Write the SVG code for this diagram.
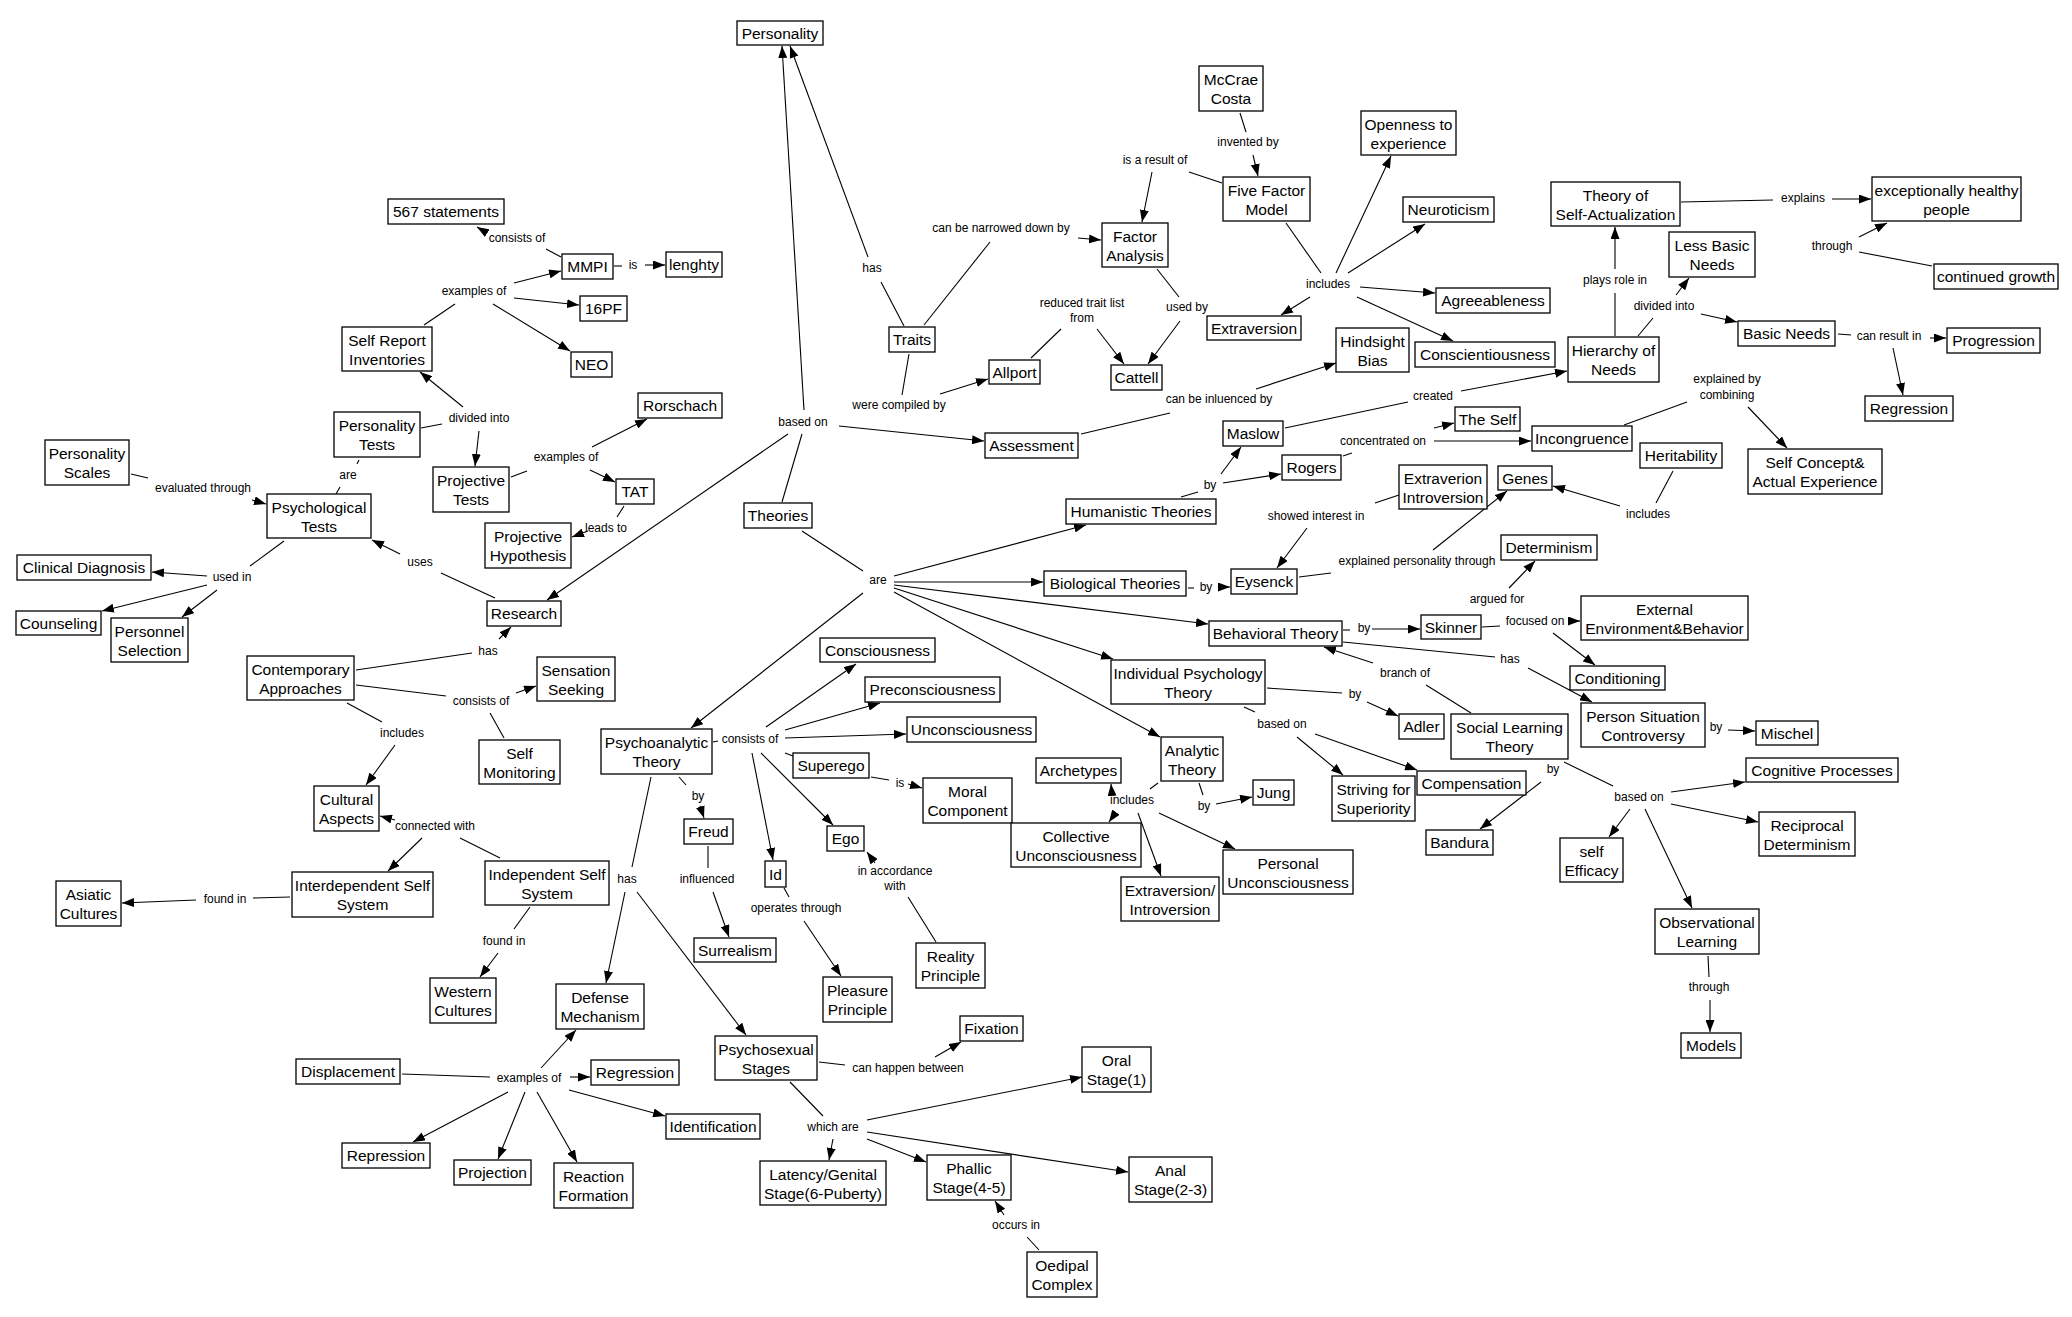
<svg xmlns="http://www.w3.org/2000/svg" width="2072" height="1317" viewBox="0 0 2072 1317">
<style>
.n rect{fill:#fff;stroke:#000;stroke-width:1.3}
.n text{font-family:"Liberation Sans",Arial,sans-serif;font-size:15.5px;fill:#000;text-anchor:middle;dominant-baseline:central}
.lb text{font-family:"Liberation Sans",Arial,sans-serif;font-size:12px;fill:#000;text-anchor:middle;dominant-baseline:central}
.c path{fill:none;stroke:#000;stroke-width:1.1}
.c path.a{marker-end:url(#ah)}
</style>
<defs>
<marker id="ah" viewBox="0 0 12 9" refX="12" refY="4.5" markerWidth="12" markerHeight="9" markerUnits="userSpaceOnUse" orient="auto"><path d="M0,0L12,4.5L0,9z" fill="#000"/></marker>
</defs>
<rect width="2072" height="1317" fill="#fff"/>
<g id="connectors" class="c">
<path d="M561,257L546,249"/><path d="M614,266L622,266"/><path d="M424,325L455,304"/><path d="M421,428L442,424"/><path d="M511,477L527,471"/><path d="M624,506L617,517"/><path d="M131,474L148,478"/><path d="M359,460L357,464"/><path d="M340,487L336,494"/><path d="M284,541L250,566"/><path d="M495,598L441,573"/><path d="M356,670L472,653"/><path d="M356,685L446,696"/><path d="M504,738L490,713"/><path d="M347,703L382,722"/><path d="M500,858L460,838"/><path d="M290,897L253,898"/><path d="M530,907L514,929"/><path d="M651,777L632,867"/><path d="M402,1074L490,1077"/><path d="M679,777L686,785"/><path d="M708,846L708,868"/><path d="M713,742L718,741"/><path d="M785,753L793,756"/><path d="M871,777L889,780"/><path d="M784,888L789,897"/><path d="M936,942L908,897"/><path d="M819,1062L845,1065"/><path d="M790,1082L823,1116"/><path d="M1039,1250L1027,1237"/><path d="M782,502L802,434"/><path d="M904,326L881,282"/><path d="M802,531L863,571"/><path d="M924,325L990,242"/><path d="M1222,183L1189,172"/><path d="M1240,113L1246,132"/><path d="M1286,223L1321,273"/><path d="M1031,358L1061,329"/><path d="M1157,269L1179,297"/><path d="M909,354L902,395"/><path d="M1081,434L1170,413"/><path d="M1285,428L1408,402"/><path d="M1615,336L1615,293"/><path d="M1681,202L1773,200"/><path d="M1932,266L1859,252"/><path d="M1638,336L1653,318"/><path d="M1838,334L1851,335"/><path d="M1624,425L1687,402"/><path d="M1181,497L1198,492"/><path d="M1343,456L1352,453"/><path d="M1673,471L1656,503"/><path d="M1399,495L1375,503"/><path d="M1299,577L1331,573"/><path d="M1188,588L1194,588"/><path d="M1343,630L1350,630"/><path d="M1482,627L1500,626"/><path d="M1343,642L1495,657"/><path d="M1471,713L1426,685"/><path d="M1267,688L1342,693"/><path d="M1244,707L1255,712"/><path d="M1158,783L1150,789"/><path d="M1199,783L1203,795"/><path d="M1564,762L1613,786"/><path d="M1708,956L1709,977"/>
<path class="a" d="M487,233L477,227"/><path class="a" d="M645,265L665,265"/><path class="a" d="M514,283L561,271"/><path class="a" d="M514,298L579,305"/><path class="a" d="M493,304L570,351"/><path class="a" d="M463,407L420,372"/><path class="a" d="M479,431L475,466"/><path class="a" d="M592,447L647,419"/><path class="a" d="M590,470L615,482"/><path class="a" d="M588,531L572,537"/><path class="a" d="M252,500L266,504"/><path class="a" d="M207,576L152,572"/><path class="a" d="M207,585L102,611"/><path class="a" d="M217,590L182,617"/><path class="a" d="M400,554L372,540"/><path class="a" d="M499,639L511,627"/><path class="a" d="M516,693L536,686"/><path class="a" d="M395,745L366,785"/><path class="a" d="M422,838L388,871"/><path class="a" d="M395,820L380,816"/><path class="a" d="M196,900L122,903"/><path class="a" d="M498,953L480,977"/><path class="a" d="M625,892L606,983"/><path class="a" d="M637,892L746,1035"/><path class="a" d="M541,1068L576,1030"/><path class="a" d="M570,1077L590,1077"/><path class="a" d="M508,1092L413,1142"/><path class="a" d="M525,1092L498,1159"/><path class="a" d="M537,1092L577,1162"/><path class="a" d="M569,1090L665,1116"/><path class="a" d="M700,806L704,818"/><path class="a" d="M713,892L729,937"/><path class="a" d="M766,727L856,664"/><path class="a" d="M785,730L880,703"/><path class="a" d="M785,738L906,734"/><path class="a" d="M761,753L833,825"/><path class="a" d="M752,753L773,860"/><path class="a" d="M908,784L922,788"/><path class="a" d="M804,921L841,976"/><path class="a" d="M875,863L867,852"/><path class="a" d="M935,1057L961,1042"/><path class="a" d="M867,1120L1082,1077"/><path class="a" d="M833,1139L829,1160"/><path class="a" d="M867,1139L926,1162"/><path class="a" d="M867,1132L1128,1172"/><path class="a" d="M1004,1215L995,1201"/><path class="a" d="M804,410L782,46"/><path class="a" d="M868,257L790,46"/><path class="a" d="M839,426L984,441"/><path class="a" d="M788,434L547,600"/><path class="a" d="M894,576L1086,525"/><path class="a" d="M894,582L1043,582"/><path class="a" d="M894,585L1208,624"/><path class="a" d="M894,588L1113,659"/><path class="a" d="M894,592L1160,737"/><path class="a" d="M863,593L691,728"/><path class="a" d="M1078,238L1101,240"/><path class="a" d="M1152,172L1142,222"/><path class="a" d="M1253,155L1258,176"/><path class="a" d="M1336,273L1391,156"/><path class="a" d="M1348,273L1425,224"/><path class="a" d="M1360,287L1435,293"/><path class="a" d="M1357,297L1453,341"/><path class="a" d="M1310,297L1281,315"/><path class="a" d="M1097,329L1124,364"/><path class="a" d="M1180,321L1148,364"/><path class="a" d="M940,394L988,379"/><path class="a" d="M1256,389L1336,363"/><path class="a" d="M1461,391L1567,371"/><path class="a" d="M1615,269L1615,227"/><path class="a" d="M1832,199L1871,199"/><path class="a" d="M1859,237L1887,223"/><path class="a" d="M1676,295L1689,278"/><path class="a" d="M1701,314L1737,322"/><path class="a" d="M1930,338L1946,338"/><path class="a" d="M1893,348L1903,395"/><path class="a" d="M1748,407L1787,448"/><path class="a" d="M1221,474L1241,447"/><path class="a" d="M1223,483L1281,474"/><path class="a" d="M1434,428L1454,423"/><path class="a" d="M1434,441L1531,441"/><path class="a" d="M1620,506L1553,486"/><path class="a" d="M1307,528L1277,568"/><path class="a" d="M1433,550L1507,491"/><path class="a" d="M1218,587L1230,587"/><path class="a" d="M1372,629L1420,629"/><path class="a" d="M1509,588L1535,561"/><path class="a" d="M1571,621L1580,621"/><path class="a" d="M1553,633L1595,665"/><path class="a" d="M1528,668L1592,702"/><path class="a" d="M1373,663L1324,647"/><path class="a" d="M1728,730L1755,731"/><path class="a" d="M1367,702L1398,716"/><path class="a" d="M1297,737L1343,775"/><path class="a" d="M1315,734L1417,770"/><path class="a" d="M1112,795L1111,784"/><path class="a" d="M1116,812L1109,822"/><path class="a" d="M1138,813L1161,876"/><path class="a" d="M1159,813L1235,849"/><path class="a" d="M1216,804L1252,797"/><path class="a" d="M1541,782L1480,829"/><path class="a" d="M1671,792L1745,782"/><path class="a" d="M1671,804L1758,822"/><path class="a" d="M1630,809L1609,837"/><path class="a" d="M1645,809L1692,908"/><path class="a" d="M1710,1000L1710,1032"/>
</g>
<g id="link-labels" class="lb">
<text x="517" y="238">consists of</text><text x="633" y="265">is</text><text x="474" y="291">examples of</text><text x="479" y="418">divided into</text><text x="566" y="457">examples of</text><text x="606" y="528">leads to</text><text x="203" y="488">evaluated through</text><text x="348" y="475">are</text><text x="232" y="577">used in</text><text x="420" y="562">uses</text><text x="488" y="651">has</text><text x="481" y="701">consists of</text><text x="402" y="733">includes</text><text x="435" y="826">connected with</text><text x="225" y="899">found in</text><text x="504" y="941">found in</text><text x="627" y="879">has</text><text x="529" y="1078">examples of</text><text x="698" y="796">by</text><text x="750" y="739">consists of</text><text x="900" y="783">is</text><text x="707" y="879">influenced</text><text x="796" y="908">operates through</text><text x="895" y="871">in accordance</text><text x="895" y="886">with</text><text x="908" y="1068">can happen between</text><text x="833" y="1127">which are</text><text x="1016" y="1225">occurs in</text><text x="803" y="422">based on</text><text x="872" y="268">has</text><text x="878" y="580">are</text><text x="1001" y="228">can be narrowed down by</text><text x="1155" y="160">is a result of</text><text x="1248" y="142">invented by</text><text x="1328" y="284">includes</text><text x="1082" y="303">reduced trait list</text><text x="1082" y="318">from</text><text x="1187" y="307">used by</text><text x="899" y="405">were compiled by</text><text x="1219" y="399">can be inluenced by</text><text x="1433" y="396">created</text><text x="1615" y="280">plays role in</text><text x="1803" y="198">explains</text><text x="1832" y="246">through</text><text x="1664" y="306">divided into</text><text x="1889" y="336">can result in</text><text x="1727" y="379">explained by</text><text x="1727" y="395">combining</text><text x="1383" y="441">concentrated on</text><text x="1210" y="485">by</text><text x="1648" y="514">includes</text><text x="1316" y="516">showed interest in</text><text x="1417" y="561">explained personality through</text><text x="1206" y="587">by</text><text x="1497" y="599">argued for</text><text x="1364" y="628">by</text><text x="1535" y="621">focused on</text><text x="1510" y="659">has</text><text x="1405" y="673">branch of</text><text x="1355" y="694">by</text><text x="1282" y="724">based on</text><text x="1716" y="727">by</text><text x="1132" y="800">includes</text><text x="1204" y="806">by</text><text x="1553" y="769">by</text><text x="1639" y="797">based on</text><text x="1709" y="987">through</text>
</g>
<g id="personality" class="n"><rect x="737" y="21" width="86" height="24"/><text x="780" y="33">Personality</text></g>
<g id="n567" class="n"><rect x="388" y="199" width="116" height="25"/><text x="446" y="211.5">567 statements</text></g>
<g id="mmpi" class="n"><rect x="562" y="254" width="51" height="25"/><text x="587.5" y="266.5">MMPI</text></g>
<g id="lenghty" class="n"><rect x="666" y="252" width="56" height="25"/><text x="694" y="264.5">lenghty</text></g>
<g id="pf16" class="n"><rect x="580" y="296" width="47" height="25"/><text x="603.5" y="308.5">16PF</text></g>
<g id="neo" class="n"><rect x="571" y="352" width="41" height="25"/><text x="591.5" y="364.5">NEO</text></g>
<g id="selfreport" class="n"><rect x="342" y="327" width="90" height="44"/><text x="387"><tspan x="387" y="339.5">Self Report</tspan><tspan x="387" y="358.5">Inventories</tspan></text></g>
<g id="perstests" class="n"><rect x="334" y="412" width="86" height="45"/><text x="377"><tspan x="377" y="425">Personality</tspan><tspan x="377" y="444">Tests</tspan></text></g>
<g id="projtests" class="n"><rect x="433" y="467" width="76" height="45"/><text x="471"><tspan x="471" y="480">Projective</tspan><tspan x="471" y="499">Tests</tspan></text></g>
<g id="rorschach" class="n"><rect x="638" y="393" width="84" height="25"/><text x="680" y="405.5">Rorschach</text></g>
<g id="tat" class="n"><rect x="616" y="479" width="38" height="25"/><text x="635" y="491.5">TAT</text></g>
<g id="projhyp" class="n"><rect x="485" y="523" width="86" height="45"/><text x="528"><tspan x="528" y="536">Projective</tspan><tspan x="528" y="555">Hypothesis</tspan></text></g>
<g id="persscales" class="n"><rect x="45" y="440" width="84" height="45"/><text x="87"><tspan x="87" y="453">Personality</tspan><tspan x="87" y="472">Scales</tspan></text></g>
<g id="psychtests" class="n"><rect x="267" y="494" width="104" height="44"/><text x="319"><tspan x="319" y="506.5">Psychological</tspan><tspan x="319" y="525.5">Tests</tspan></text></g>
<g id="clinical" class="n"><rect x="17" y="555" width="134" height="25"/><text x="84" y="567.5">Clinical Diagnosis</text></g>
<g id="counseling" class="n"><rect x="16" y="611" width="85" height="24"/><text x="58.5" y="623">Counseling</text></g>
<g id="personnel" class="n"><rect x="111" y="618" width="77" height="44"/><text x="149.5"><tspan x="149.5" y="630.5">Personnel</tspan><tspan x="149.5" y="649.5">Selection</tspan></text></g>
<g id="research" class="n"><rect x="487" y="601" width="74" height="25"/><text x="524" y="613.5">Research</text></g>
<g id="contemporary" class="n"><rect x="247" y="656" width="107" height="44"/><text x="300.5"><tspan x="300.5" y="668.5">Contemporary</tspan><tspan x="300.5" y="687.5">Approaches</tspan></text></g>
<g id="sensation" class="n"><rect x="537" y="657" width="78" height="44"/><text x="576"><tspan x="576" y="669.5">Sensation</tspan><tspan x="576" y="688.5">Seeking</tspan></text></g>
<g id="selfmon" class="n"><rect x="479" y="740" width="81" height="44"/><text x="519.5"><tspan x="519.5" y="752.5">Self</tspan><tspan x="519.5" y="771.5">Monitoring</tspan></text></g>
<g id="cultural" class="n"><rect x="314" y="786" width="65" height="45"/><text x="346.5"><tspan x="346.5" y="799">Cultural</tspan><tspan x="346.5" y="818">Aspects</tspan></text></g>
<g id="interdep" class="n"><rect x="292" y="872" width="141" height="45"/><text x="362.5"><tspan x="362.5" y="885">Interdependent Self</tspan><tspan x="362.5" y="904">System</tspan></text></g>
<g id="indep" class="n"><rect x="485" y="861" width="124" height="44"/><text x="547"><tspan x="547" y="873.5">Independent Self</tspan><tspan x="547" y="892.5">System</tspan></text></g>
<g id="asiatic" class="n"><rect x="56" y="881" width="65" height="45"/><text x="88.5"><tspan x="88.5" y="894">Asiatic</tspan><tspan x="88.5" y="913">Cultures</tspan></text></g>
<g id="western" class="n"><rect x="430" y="978" width="66" height="45"/><text x="463"><tspan x="463" y="991">Western</tspan><tspan x="463" y="1010">Cultures</tspan></text></g>
<g id="defense" class="n"><rect x="556" y="984" width="88" height="45"/><text x="600"><tspan x="600" y="997">Defense</tspan><tspan x="600" y="1016">Mechanism</tspan></text></g>
<g id="displacement" class="n"><rect x="296" y="1059" width="104" height="25"/><text x="348" y="1071.5">Displacement</text></g>
<g id="regression1" class="n"><rect x="591" y="1060" width="88" height="25"/><text x="635" y="1072.5">Regression</text></g>
<g id="repression" class="n"><rect x="342" y="1143" width="88" height="25"/><text x="386" y="1155.5">Repression</text></g>
<g id="projection" class="n"><rect x="454" y="1160" width="77" height="25"/><text x="492.5" y="1172.5">Projection</text></g>
<g id="reaction" class="n"><rect x="554" y="1163" width="79" height="45"/><text x="593.5"><tspan x="593.5" y="1176">Reaction</tspan><tspan x="593.5" y="1195">Formation</tspan></text></g>
<g id="identification" class="n"><rect x="666" y="1114" width="94" height="25"/><text x="713" y="1126.5">Identification</text></g>
<g id="psychoanalytic" class="n"><rect x="601" y="729" width="111" height="45"/><text x="656.5"><tspan x="656.5" y="742">Psychoanalytic</tspan><tspan x="656.5" y="761">Theory</tspan></text></g>
<g id="freud" class="n"><rect x="684" y="819" width="49" height="25"/><text x="708.5" y="831.5">Freud</text></g>
<g id="id" class="n"><rect x="765" y="861" width="21" height="26"/><text x="775.5" y="874">Id</text></g>
<g id="ego" class="n"><rect x="827" y="826" width="37" height="25"/><text x="845.5" y="838.5">Ego</text></g>
<g id="superego" class="n"><rect x="793" y="753" width="76" height="25"/><text x="831" y="765.5">Superego</text></g>
<g id="moral" class="n"><rect x="923" y="778" width="89" height="45"/><text x="967.5"><tspan x="967.5" y="791">Moral</tspan><tspan x="967.5" y="810">Component</tspan></text></g>
<g id="consciousness" class="n"><rect x="820" y="638" width="115" height="24"/><text x="877.5" y="650">Consciousness</text></g>
<g id="preconsciousness" class="n"><rect x="865" y="677" width="135" height="25"/><text x="932.5" y="689.5">Preconsciousness</text></g>
<g id="unconsciousness" class="n"><rect x="907" y="717" width="129" height="25"/><text x="971.5" y="729.5">Unconsciousness</text></g>
<g id="surrealism" class="n"><rect x="694" y="938" width="82" height="24"/><text x="735" y="950">Surrealism</text></g>
<g id="pleasure" class="n"><rect x="823" y="977" width="69" height="45"/><text x="857.5"><tspan x="857.5" y="990">Pleasure</tspan><tspan x="857.5" y="1009">Principle</tspan></text></g>
<g id="reality" class="n"><rect x="916" y="943" width="69" height="45"/><text x="950.5"><tspan x="950.5" y="956">Reality</tspan><tspan x="950.5" y="975">Principle</tspan></text></g>
<g id="psychosexual" class="n"><rect x="715" y="1036" width="102" height="44"/><text x="766"><tspan x="766" y="1048.5">Psychosexual</tspan><tspan x="766" y="1067.5">Stages</tspan></text></g>
<g id="fixation" class="n"><rect x="960" y="1016" width="63" height="25"/><text x="991.5" y="1028.5">Fixation</text></g>
<g id="oral" class="n"><rect x="1082" y="1047" width="69" height="45"/><text x="1116.5"><tspan x="1116.5" y="1060">Oral</tspan><tspan x="1116.5" y="1079">Stage(1)</tspan></text></g>
<g id="latency" class="n"><rect x="760" y="1161" width="126" height="44"/><text x="823"><tspan x="823" y="1173.5">Latency/Genital</tspan><tspan x="823" y="1192.5">Stage(6-Puberty)</tspan></text></g>
<g id="phallic" class="n"><rect x="927" y="1155" width="84" height="45"/><text x="969"><tspan x="969" y="1168">Phallic</tspan><tspan x="969" y="1187">Stage(4-5)</tspan></text></g>
<g id="anal" class="n"><rect x="1129" y="1157" width="83" height="45"/><text x="1170.5"><tspan x="1170.5" y="1170">Anal</tspan><tspan x="1170.5" y="1189">Stage(2-3)</tspan></text></g>
<g id="oedipal" class="n"><rect x="1027" y="1252" width="70" height="45"/><text x="1062"><tspan x="1062" y="1265">Oedipal</tspan><tspan x="1062" y="1284">Complex</tspan></text></g>
<g id="theories" class="n"><rect x="744" y="503" width="68" height="25"/><text x="778" y="515.5">Theories</text></g>
<g id="assessment" class="n"><rect x="985" y="433" width="93" height="25"/><text x="1031.5" y="445.5">Assessment</text></g>
<g id="traits" class="n"><rect x="889" y="327" width="46" height="25"/><text x="912" y="339.5">Traits</text></g>
<g id="factor" class="n"><rect x="1102" y="223" width="66" height="44"/><text x="1135"><tspan x="1135" y="235.5">Factor</tspan><tspan x="1135" y="254.5">Analysis</tspan></text></g>
<g id="fivefactor" class="n"><rect x="1223" y="177" width="87" height="44"/><text x="1266.5"><tspan x="1266.5" y="189.5">Five Factor</tspan><tspan x="1266.5" y="208.5">Model</tspan></text></g>
<g id="mccrae" class="n"><rect x="1199" y="66" width="64" height="45"/><text x="1231"><tspan x="1231" y="79">McCrae</tspan><tspan x="1231" y="98">Costa</tspan></text></g>
<g id="openness" class="n"><rect x="1361" y="111" width="95" height="44"/><text x="1408.5"><tspan x="1408.5" y="123.5">Openness to</tspan><tspan x="1408.5" y="142.5">experience</tspan></text></g>
<g id="neuroticism" class="n"><rect x="1403" y="197" width="91" height="25"/><text x="1448.5" y="209.5">Neuroticism</text></g>
<g id="agreeableness" class="n"><rect x="1436" y="288" width="114" height="25"/><text x="1493" y="300.5">Agreeableness</text></g>
<g id="conscientiousness" class="n"><rect x="1415" y="342" width="140" height="25"/><text x="1485" y="354.5">Conscientiousness</text></g>
<g id="extraversion" class="n"><rect x="1207" y="316" width="94" height="24"/><text x="1254" y="328">Extraversion</text></g>
<g id="allport" class="n"><rect x="989" y="360" width="51" height="24"/><text x="1014.5" y="372">Allport</text></g>
<g id="cattell" class="n"><rect x="1111" y="365" width="51" height="25"/><text x="1136.5" y="377.5">Cattell</text></g>
<g id="hindsight" class="n"><rect x="1336" y="328" width="73" height="44"/><text x="1372.5"><tspan x="1372.5" y="340.5">Hindsight</tspan><tspan x="1372.5" y="359.5">Bias</tspan></text></g>
<g id="selfactualization" class="n"><rect x="1551" y="182" width="129" height="44"/><text x="1615.5"><tspan x="1615.5" y="194.5">Theory of</tspan><tspan x="1615.5" y="213.5">Self-Actualization</tspan></text></g>
<g id="healthy" class="n"><rect x="1872" y="177" width="149" height="44"/><text x="1946.5"><tspan x="1946.5" y="189.5">exceptionally healthy</tspan><tspan x="1946.5" y="208.5">people</tspan></text></g>
<g id="growth" class="n"><rect x="1934" y="264" width="124" height="25"/><text x="1996" y="276.5">continued growth</text></g>
<g id="lessbasic" class="n"><rect x="1669" y="232" width="86" height="45"/><text x="1712"><tspan x="1712" y="245">Less Basic</tspan><tspan x="1712" y="264">Needs</tspan></text></g>
<g id="hierarchy" class="n"><rect x="1568" y="337" width="91" height="45"/><text x="1613.5"><tspan x="1613.5" y="350">Hierarchy of</tspan><tspan x="1613.5" y="369">Needs</tspan></text></g>
<g id="basicneeds" class="n"><rect x="1738" y="321" width="97" height="25"/><text x="1786.5" y="333.5">Basic Needs</text></g>
<g id="progression" class="n"><rect x="1947" y="328" width="93" height="25"/><text x="1993.5" y="340.5">Progression</text></g>
<g id="regression2" class="n"><rect x="1865" y="396" width="88" height="25"/><text x="1909" y="408.5">Regression</text></g>
<g id="maslow" class="n"><rect x="1223" y="421" width="60" height="25"/><text x="1253" y="433.5">Maslow</text></g>
<g id="rogers" class="n"><rect x="1282" y="455" width="59" height="25"/><text x="1311.5" y="467.5">Rogers</text></g>
<g id="theself" class="n"><rect x="1455" y="407" width="65" height="24"/><text x="1487.5" y="419">The Self</text></g>
<g id="incongruence" class="n"><rect x="1532" y="426" width="100" height="25"/><text x="1582" y="438.5">Incongruence</text></g>
<g id="heritability" class="n"><rect x="1640" y="443" width="82" height="25"/><text x="1681" y="455.5">Heritability</text></g>
<g id="selfconcept" class="n"><rect x="1748" y="449" width="134" height="45"/><text x="1815"><tspan x="1815" y="462">Self Concept&amp;</tspan><tspan x="1815" y="481">Actual Experience</tspan></text></g>
<g id="extraverion" class="n"><rect x="1399" y="465" width="88" height="44"/><text x="1443"><tspan x="1443" y="477.5">Extraverion</tspan><tspan x="1443" y="496.5">Introversion</tspan></text></g>
<g id="genes" class="n"><rect x="1498" y="466" width="54" height="24"/><text x="1525" y="478">Genes</text></g>
<g id="humanistic" class="n"><rect x="1066" y="499" width="150" height="25"/><text x="1141" y="511.5">Humanistic Theories</text></g>
<g id="biological" class="n"><rect x="1044" y="571" width="142" height="25"/><text x="1115" y="583.5">Biological Theories</text></g>
<g id="eysenck" class="n"><rect x="1231" y="569" width="66" height="25"/><text x="1264" y="581.5">Eysenck</text></g>
<g id="determinism" class="n"><rect x="1501" y="535" width="96" height="25"/><text x="1549" y="547.5">Determinism</text></g>
<g id="behavioral" class="n"><rect x="1209" y="621" width="133" height="25"/><text x="1275.5" y="633.5">Behavioral Theory</text></g>
<g id="skinner" class="n"><rect x="1421" y="615" width="60" height="24"/><text x="1451" y="627">Skinner</text></g>
<g id="external" class="n"><rect x="1581" y="596" width="167" height="44"/><text x="1664.5"><tspan x="1664.5" y="608.5">External</tspan><tspan x="1664.5" y="627.5">Environment&amp;Behavior</tspan></text></g>
<g id="conditioning" class="n"><rect x="1570" y="666" width="95" height="24"/><text x="1617.5" y="678">Conditioning</text></g>
<g id="individual" class="n"><rect x="1111" y="660" width="154" height="44"/><text x="1188"><tspan x="1188" y="672.5">Individual Psychology</tspan><tspan x="1188" y="691.5">Theory</tspan></text></g>
<g id="adler" class="n"><rect x="1399" y="714" width="45" height="25"/><text x="1421.5" y="726.5">Adler</text></g>
<g id="sociallearning" class="n"><rect x="1451" y="714" width="117" height="45"/><text x="1509.5"><tspan x="1509.5" y="727">Social Learning</tspan><tspan x="1509.5" y="746">Theory</tspan></text></g>
<g id="personsituation" class="n"><rect x="1581" y="703" width="124" height="44"/><text x="1643"><tspan x="1643" y="715.5">Person Situation</tspan><tspan x="1643" y="734.5">Controversy</tspan></text></g>
<g id="mischel" class="n"><rect x="1756" y="721" width="62" height="24"/><text x="1787" y="733">Mischel</text></g>
<g id="analytic" class="n"><rect x="1161" y="737" width="62" height="44"/><text x="1192"><tspan x="1192" y="749.5">Analytic</tspan><tspan x="1192" y="768.5">Theory</tspan></text></g>
<g id="archetypes" class="n"><rect x="1036" y="758" width="85" height="25"/><text x="1078.5" y="770.5">Archetypes</text></g>
<g id="jung" class="n"><rect x="1253" y="780" width="41" height="25"/><text x="1273.5" y="792.5">Jung</text></g>
<g id="striving" class="n"><rect x="1332" y="776" width="83" height="45"/><text x="1373.5"><tspan x="1373.5" y="789">Striving for</tspan><tspan x="1373.5" y="808">Superiority</tspan></text></g>
<g id="compensation" class="n"><rect x="1417" y="771" width="109" height="24"/><text x="1471.5" y="783">Compensation</text></g>
<g id="collective" class="n"><rect x="1011" y="823" width="130" height="44"/><text x="1076"><tspan x="1076" y="835.5">Collective</tspan><tspan x="1076" y="854.5">Unconsciousness</tspan></text></g>
<g id="extraintro" class="n"><rect x="1121" y="877" width="98" height="44"/><text x="1170"><tspan x="1170" y="889.5">Extraversion/</tspan><tspan x="1170" y="908.5">Introversion</tspan></text></g>
<g id="personal" class="n"><rect x="1223" y="850" width="130" height="44"/><text x="1288"><tspan x="1288" y="862.5">Personal</tspan><tspan x="1288" y="881.5">Unconsciousness</tspan></text></g>
<g id="bandura" class="n"><rect x="1426" y="830" width="67" height="25"/><text x="1459.5" y="842.5">Bandura</text></g>
<g id="cognitive" class="n"><rect x="1746" y="758" width="152" height="24"/><text x="1822" y="770">Cognitive Processes</text></g>
<g id="reciprocal" class="n"><rect x="1759" y="812" width="96" height="44"/><text x="1807"><tspan x="1807" y="824.5">Reciprocal</tspan><tspan x="1807" y="843.5">Determinism</tspan></text></g>
<g id="selfefficacy" class="n"><rect x="1560" y="838" width="63" height="44"/><text x="1591.5"><tspan x="1591.5" y="850.5">self</tspan><tspan x="1591.5" y="869.5">Efficacy</tspan></text></g>
<g id="observational" class="n"><rect x="1655" y="909" width="104" height="45"/><text x="1707"><tspan x="1707" y="922">Observational</tspan><tspan x="1707" y="941">Learning</tspan></text></g>
<g id="models" class="n"><rect x="1681" y="1033" width="60" height="25"/><text x="1711" y="1045.5">Models</text></g>
</svg>
